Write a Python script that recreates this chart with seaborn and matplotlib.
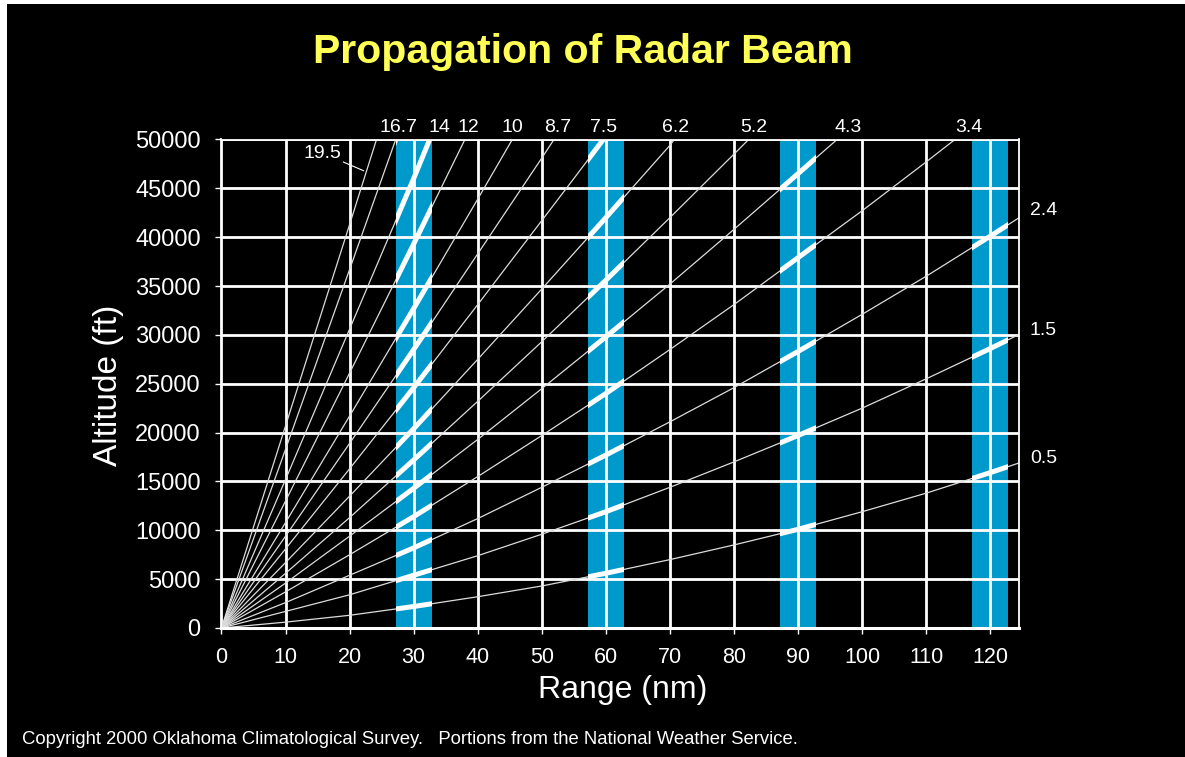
import numpy as np
import pandas as pd
import matplotlib
matplotlib.use("Agg")
import matplotlib.pyplot as plt
from matplotlib.patches import Rectangle
import seaborn as sns

# ---------------- data ----------------
beam_labels = ["0.5", "1.5", "2.4", "3.4", "4.3", "5.2", "6.2", "7.5",
               "8.7", "10", "12", "14", "16.7", "19.5"]

range_05 = [0, 10, 20, 30, 40, 50, 60, 70, 80, 90, 100, 110, 120, 125]
alt_05 = [0, 600, 1300, 2200, 3200, 4300, 5600, 7000, 8500, 10100, 11900, 13800, 15900, 17000]
range_15 = [0, 10, 20, 30, 40, 50, 60, 70, 80, 90, 100, 110, 120, 125]
alt_15 = [0, 1700, 3400, 5400, 7400, 9600, 11900, 14400, 17000, 19700, 22500, 25500, 28600, 30200]
range_24 = [0, 10, 20, 30, 40, 50, 60, 70, 80, 90, 100, 110, 120, 125]
alt_24 = [0, 2600, 5400, 8200, 11200, 14400, 17700, 21100, 24600, 28300, 32100, 36000, 40100, 42200]
range_34 = [0, 10, 20, 30, 40, 50, 60, 70, 80, 90, 100, 110, 114.5]
alt_34 = [0, 3700, 7500, 11400, 15500, 19700, 24000, 28500, 33100, 37900, 42700, 47700, 50000]
range_43 = [0, 10, 20, 30, 40, 50, 60, 70, 80, 90, 96.1]
alt_43 = [0, 4600, 9400, 14300, 19300, 24500, 29800, 35200, 40800, 46500, 50000]
range_52 = [0, 10, 20, 30, 40, 50, 60, 70, 80, 82.3]
alt_52 = [0, 5600, 11300, 17200, 23200, 29300, 35600, 42000, 48500, 50000]
range_62 = [0, 10, 20, 30, 40, 50, 60, 70, 70.7]
alt_62 = [0, 6700, 13500, 20400, 27500, 34700, 42000, 49400, 50000]
range_75 = [0, 10, 20, 30, 40, 50, 55, 59.6]
alt_75 = [0, 8100, 16300, 24600, 33100, 41700, 46000, 50000]
range_87 = [0, 10, 20, 30, 40, 50, 51.9]
alt_87 = [0, 9400, 18900, 28500, 38300, 48100, 50000]
range_10 = [0, 10, 20, 30, 40, 45.4]
alt_10 = [0, 10800, 21700, 32700, 43900, 50000]
range_12 = [0, 10, 20, 30, 35, 38.0]
alt_12 = [0, 13000, 26100, 39300, 46000, 50000]
range_14 = [0, 10, 20, 30, 32.5]
alt_14 = [0, 15200, 30600, 46000, 50000]
range_167 = [0, 10, 20, 27.2]
alt_167 = [0, 18300, 36700, 50000]
range_195 = [0, 10, 20, 24.2]
alt_195 = [0, 20700, 41300, 50000]

band_centers = [30, 60, 90, 120]
band_half_width = 2.8

x_ticks = [0, 10, 20, 30, 40, 50, 60, 70, 80, 90, 100, 110, 120]
y_ticks = [0, 5000, 10000, 15000, 20000, 25000, 30000, 35000, 40000, 45000, 50000]

# label positions (range, altitude) for the beam angles
top_label_beams = ["16.7", "14", "12", "10", "8.7", "7.5", "6.2", "5.2", "4.3", "3.4"]
top_label_x = [27.6, 34.0, 38.6, 45.4, 52.5, 59.7, 70.9, 83.1, 97.9, 116.6]
right_label_beams = ["2.4", "1.5", "0.5"]
right_label_y = [42700, 30500, 17300]

# ---------------- build table ----------------
beam_ranges = [range_05, range_15, range_24, range_34, range_43, range_52, range_62,
               range_75, range_87, range_10, range_12, range_14, range_167, range_195]
beam_alts = [alt_05, alt_15, alt_24, alt_34, alt_43, alt_52, alt_62,
             alt_75, alt_87, alt_10, alt_12, alt_14, alt_167, alt_195]
rows = []
for lab, rr, aa in zip(beam_labels, beam_ranges, beam_alts):
    for r, a in zip(rr, aa):
        rows.append((lab, r, a))
df = pd.DataFrame(rows, columns=["beam", "range", "alt"])

# ---------------- figure ----------------
plt.rcParams["font.family"] = ["Liberation Sans", "DejaVu Sans"]
W, H = 1185, 757
fig = plt.figure(figsize=(W / 100, H / 100), dpi=100, facecolor="black")
# white scan border (left and top)
fig.patches.append(Rectangle((0, 0), 7 / W, 1, transform=fig.transFigure,
                             facecolor="white", edgecolor="none", zorder=-10))
fig.patches.append(Rectangle((0, 1 - 4 / H), 1, 4 / H, transform=fig.transFigure,
                             facecolor="white", edgecolor="none", zorder=-10))

ax = fig.add_axes([221.5 / W, 1 - 628 / H, (1019 - 221.5) / W, (628 - 139.5) / H])
ax.set_facecolor("black")
ax.set_xlim(0, 124.5)
ax.set_ylim(0, 50000)

band_patches = []
for c in band_centers:
    p = ax.axvspan(c - band_half_width, c + band_half_width, color="#0099CC",
                   zorder=0.3, lw=0)
    band_patches.append(p)

ax.set_axisbelow(True)
ax.grid(True, color="white", linewidth=2.0)
ax.set_xticks(x_ticks)
ax.set_yticks(y_ticks)

sns.lineplot(data=df, x="range", y="alt", units="beam", estimator=None, sort=False,
             color="#dcdcdc", linewidth=0.9, legend=False, ax=ax, zorder=2)

for p in band_patches:
    n0 = len(ax.lines)
    sns.lineplot(data=df, x="range", y="alt", units="beam", estimator=None, sort=False,
                 color="white", linewidth=3.6, legend=False, ax=ax, zorder=3)
    for ln in ax.lines[n0:]:
        ln.set_clip_path(p)

for s in ["left", "right", "top"]:
    ax.spines[s].set_color("white")
    ax.spines[s].set_linewidth(1.3)
ax.spines["bottom"].set_color("white")
ax.spines["bottom"].set_linewidth(2.2)

ax.tick_params(axis="both", colors="white", direction="out", length=4, width=1)
ax.tick_params(axis="y", labelsize=17, pad=11)
ax.tick_params(axis="x", labelsize=15.5, pad=10)
ax.set_xlabel("")
ax.set_ylabel("")

# beam labels
for lab, x in zip(top_label_beams, top_label_x):
    ax.text(x, 50350, lab, color="white", fontsize=14, ha="center", va="bottom",
            clip_on=False)
for lab, y in zip(right_label_beams, right_label_y):
    ax.text(126.2, y, lab, color="white", fontsize=14, ha="left", va="center",
            clip_on=False)
ax.annotate("19.5", xy=(22.2, 46800), xytext=(15.8, 48600), color="white", fontsize=14,
            ha="center", va="center",
            bbox=dict(facecolor="black", edgecolor="none", pad=1),
            arrowprops=dict(arrowstyle="-", color="white", lw=0.8,
                            shrinkA=0, shrinkB=0))

# texts
fig.text(583 / W, 1 - 52 / H, "Propagation of Radar Beam", color="#FFFF55",
         fontsize=29.5, fontweight="bold", ha="center", va="center")
fig.text(108 / W, 1 - 385 / H, "Altitude (ft)", color="white", fontsize=24,
         rotation=90, ha="center", va="center")
fig.text(623 / W, 1 - 690 / H, "Range (nm)", color="white", fontsize=23,
         ha="center", va="center")
fig.text(22 / W, 1 - 740 / H,
         "Copyright 2000 Oklahoma Climatological Survey.   Portions from the National Weather Service.",
         color="white", fontsize=13.3, ha="left", va="center")

fig.savefig("out.png", dpi=100, facecolor=fig.get_facecolor())
